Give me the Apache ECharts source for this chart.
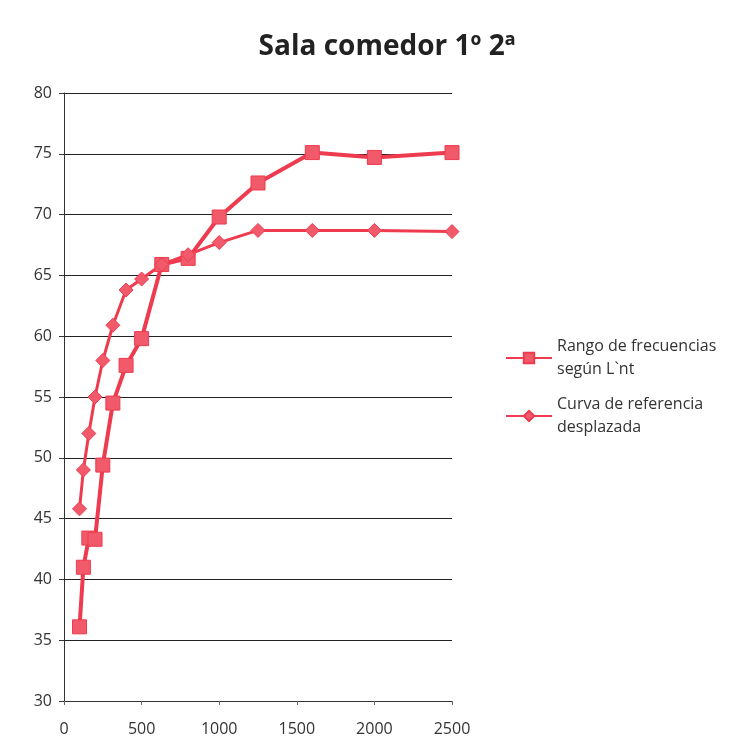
<!DOCTYPE html>
<html>
<head>
<meta charset="utf-8">
<script src="https://cdn.jsdelivr.net/npm/echarts@6/dist/echarts.min.js"></script>
<style>
  html, body { margin: 0; padding: 0; background: #fff; }
  #chart { width: 734px; height: 751px; }
</style>
</head>
<body>
<div id="chart"></div>
<script>
// frecuencias en Hz (tercios de octava)
const frequencies = [100, 125, 160, 200, 250, 315, 400, 500, 630, 800, 1000, 1250, 1600, 2000, 2500]
const rangoLnt = [36.1, 41.0, 43.4, 43.3, 49.4, 54.5, 57.6, 59.8, 65.9, 66.4, 69.8, 72.6, 75.1, 74.7, 75.1]
const curvaReferencia = [45.8, 49.0, 52.0, 55.0, 58.0, 60.9, 63.8, 64.7, 65.9, 66.7, 67.7, 68.7, 68.7, 68.7, 68.6]
const seriesNames = ['Rango de frecuencias\nsegún L`nt', 'Curva de referencia\ndesplazada']
const xTicks = [0, 500, 1000, 1500, 2000, 2500]
const yTicks = [30, 35, 40, 45, 50, 55, 60, 65, 70, 75, 80]

const toPoints = (vals) => frequencies.map((f, i) => [f, vals[i]])

const chart = echarts.init(document.getElementById('chart'))
const lineColor = '#ee3b4f'
const fillColor = '#f05a6a'
const font = '"Open Sans", sans-serif'

chart.setOption({
  animation: false,
  title: {
    text: 'Sala comedor 1º 2ª',
    left: 382,
    top: 28,
    textAlign: 'center',
    textStyle: { fontFamily: font, fontSize: 28, fontWeight: 'bold', color: '#222' },
  },
  grid: { left: 64, right: 282, top: 93, bottom: 50 },
  legend: {
    orient: 'vertical',
    left: 500,
    top: 330,
    itemWidth: 46,
    itemHeight: 13,
    itemGap: 12,
    textStyle: { fontFamily: font, fontSize: 16, color: '#333', lineHeight: 23 },
    data: seriesNames,
  },
  xAxis: {
    type: 'value',
    min: xTicks[0],
    max: xTicks[xTicks.length - 1],
    interval: 500,
    axisLine: { onZero: false, lineStyle: { color: '#333' } },
    axisTick: { show: true, length: 4, lineStyle: { color: '#666' } },
    axisLabel: { fontFamily: font, fontSize: 16, color: '#333', margin: 20, formatter: (v) => String(v) },
    splitLine: { show: false },
  },
  yAxis: {
    type: 'value',
    min: yTicks[0],
    max: yTicks[yTicks.length - 1],
    interval: 5,
    axisLine: { show: true, lineStyle: { color: '#333' } },
    axisTick: { show: true, length: 5, lineStyle: { color: '#333' } },
    axisLabel: { fontFamily: font, fontSize: 16, color: '#333', margin: 12 },
    splitLine: { show: true, lineStyle: { color: '#222', width: 1 } },
  },
  series: [
    {
      name: seriesNames[0],
      type: 'line',
      data: toPoints(rangoLnt),
      symbol: 'rect',
      symbolSize: 14,
      lineStyle: { color: lineColor, width: 4 },
      itemStyle: { color: fillColor, borderColor: lineColor, borderWidth: 1 },
    },
    {
      name: seriesNames[1],
      type: 'line',
      data: toPoints(curvaReferencia),
      symbol: 'diamond',
      symbolSize: 14,
      lineStyle: { color: lineColor, width: 3 },
      itemStyle: { color: fillColor, borderColor: lineColor, borderWidth: 1 },
    },
  ],
})
</script>
</body>
</html>
